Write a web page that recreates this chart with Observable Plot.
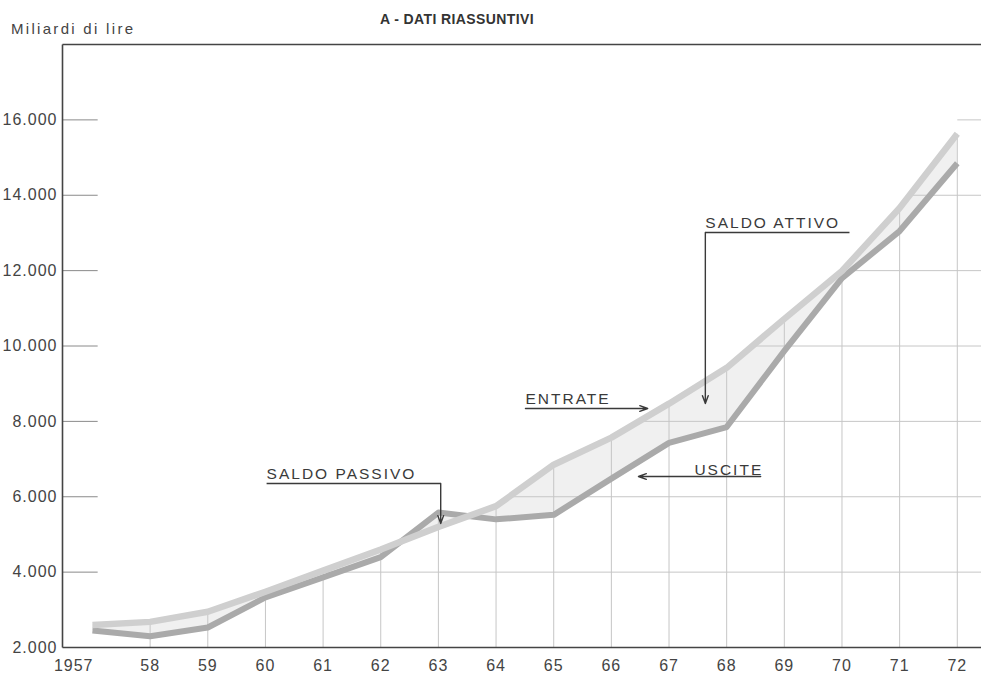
<!DOCTYPE html>
<html>
<head>
<meta charset="utf-8">
<script src="https://cdn.jsdelivr.net/npm/d3@7"></script>
<script src="https://cdn.jsdelivr.net/npm/@observablehq/plot@0.6"></script>
<style>
  html, body { margin: 0; padding: 0; background: #ffffff; }
  #wrap { position: relative; width: 981px; height: 673px; }
  #wrap svg text { letter-spacing: 1px; }
  #wrap svg g.ann text { letter-spacing: 2px; }
  .title { position: absolute; left: 457px; top: 11px; transform: translateX(-50%);
    font-family: "Liberation Sans Narrow", "Liberation Sans", Arial, sans-serif; font-weight: bold;
    font-size: 14px; color: #333; letter-spacing: 0.4px; white-space: nowrap; }
  .unit { position: absolute; left: 11px; top: 20px; font-family: "Liberation Sans", Arial, sans-serif;
    font-size: 15px; color: #444; letter-spacing: 2.3px; white-space: nowrap; }
</style>
</head>
<body>
<div id="wrap">
  <div class="title">A - DATI RIASSUNTIVI</div>
  <div class="unit">Miliardi di lire</div>
</div>
<script>
// ---- data (miliardi di lire) ----
const years   = [1957, 1958, 1959, 1960, 1961, 1962, 1963, 1964, 1965, 1966, 1967, 1968, 1969, 1970, 1971, 1972];
const entrate = [2600, 2680, 2950, 3480, 4040, 4600, 5200, 5750, 6850, 7570, 8470, 9420, 10720, 11990, 13660, 15630];
const uscite  = [2450, 2300, 2530, 3330, 3860, 4400, 5580, 5400, 5520, 6480, 7430, 7850, 9870, 11800, 13050, 14850];

const xTickLabels = ["1957", "58", "59", "60", "61", "62", "63", "64", "65", "66", "67", "68", "69", "70", "71", "72"];
const yTicks      = [2000, 4000, 6000, 8000, 10000, 12000, 14000, 16000];
const yTickLabels = ["2.000", "4.000", "6.000", "8.000", "10.000", "12.000", "14.000", "16.000"];

// annotation labels (data coordinates)
const annLabels = ["SALDO ATTIVO", "ENTRATE", "USCITE", "SALDO PASSIVO"];
const annX      = [1967.63, 1964.51, 1967.44, 1960.02];
const annY      = [13275, 8580, 6722, 6616];

const xDomain = [1956.48, 1972.42];
const yDomain = [2000, 18000];

const data = years.map((year, i) => ({year, entrate: entrate[i], uscite: uscite[i], top: Math.max(entrate[i], uscite[i])}));
const ann = annLabels.map((t, i) => ({t, x: annX[i], y: annY[i]}));

// the grid is only drawn below the upper curve: find where the upper curve reaches each level
function crossX(v) {
  const n = data.length;
  if (v <= data[0].top) return data[0].year;
  for (let i = 0; i < n - 1; i++) {
    const a = data[i].top, b = data[i + 1].top;
    if (a <= v && v <= b) return data[i].year + (v - a) / (b - a);
  }
  return data[n - 1].year;
}
const gridH = yTicks.slice(1).map(v => ({v, xa: crossX(v), xb: xDomain[1]}));
const leftTicks = yTicks.slice(1).map(v => ({v, xa: xDomain[0], xb: years[0] + 0.09}));
const gridV = data.filter(d => d.year > years[0]).map(d => ({x: d.year, ya: yDomain[0], yb: d.top}));

// leader lines / arrows (data coordinates)
const underlines = [
  {x1: 1967.63, y1: 13010, x2: 1970.13, y2: 13010},
  {x1: 1960.02, y1: 6351, x2: 1963.04, y2: 6351}
];
const arrows = [
  {x1: 1967.63, y1: 13010, x2: 1967.63, y2: 8473},
  {x1: 1964.51, y1: 8341, x2: 1966.63, y2: 8341},
  {x1: 1968.59, y1: 6537, x2: 1966.47, y2: 6537},
  {x1: 1963.04, y1: 6351, x2: 1963.04, y2: 5290}
];
const frameLines = [
  {x1: xDomain[0], y1: yDomain[0], x2: xDomain[1], y2: yDomain[0]},
  {x1: xDomain[0], y1: yDomain[1], x2: xDomain[1], y2: yDomain[1]},
  {x1: xDomain[0], y1: yDomain[0], x2: xDomain[0], y2: yDomain[1]}
];

const gridColor = "#c6c6c6";
const ink = "#3a3a3a";

const bandMarks = (typeof Plot.difference === "function")
  ? [Plot.difference(data, {x: "year", y1: "uscite", y2: "entrate",
        positiveFill: "#f0f0f0", negativeFill: "#b3b3b3", fillOpacity: 1, stroke: "none"})]
  : [Plot.areaY(data, {x: "year", y1: "uscite", y2: "entrate", fill: "#f0f0f0"})];

const chart = Plot.plot({
  width: 981,
  height: 673,
  marginTop: 44,
  marginBottom: 26,
  marginLeft: 62,
  marginRight: 0,
  x: {domain: xDomain, axis: null},
  y: {domain: yDomain, axis: null},
  style: {fontFamily: "'Liberation Sans', Arial, sans-serif", background: "#ffffff", color: ink},
  marks: [
    // band between the two series
    ...bandMarks,
    // grid (below the curves), plus short inner ticks on the left axis
    Plot.link(gridH, {x1: "xa", x2: "xb", y1: "v", y2: "v", stroke: gridColor, strokeWidth: 1}),
    Plot.link(leftTicks, {x1: "xa", x2: "xb", y1: "v", y2: "v", stroke: "#8a8a8a", strokeWidth: 1}),
    Plot.link(gridV, {x1: "x", x2: "x", y1: "ya", y2: "yb", stroke: gridColor, strokeWidth: 1}),
    // series
    Plot.line(data, {x: "year", y: "uscite", stroke: "#aaaaaa", strokeWidth: 6, strokeLinejoin: "round", strokeLinecap: "butt"}),
    Plot.line(data, {x: "year", y: "entrate", stroke: "#cfcfcf", strokeWidth: 6.5, strokeLinejoin: "round", strokeLinecap: "butt"}),
    // frame
    Plot.link(frameLines, {x1: "x1", y1: "y1", x2: "x2", y2: "y2", stroke: "#444", strokeWidth: 1.6}),
    // tick labels
    Plot.text(yTicks, {x: () => xDomain[0], y: d => d, text: d => yTickLabels[yTicks.indexOf(d)],
      textAnchor: "end", dx: -5, fontSize: 16, fill: "#444"}),
    Plot.text(years.slice(1), {x: d => d, y: () => yDomain[0], text: d => xTickLabels[years.indexOf(d)],
      textAnchor: "middle", dy: 18, fontSize: 16, fill: "#444"}),
    Plot.text([years[0]], {x: d => d, y: () => yDomain[0], text: d => xTickLabels[years.indexOf(d)],
      textAnchor: "end", dx: 1, dy: 18, fontSize: 16, fill: "#444"}),
    // annotations
    Plot.link(underlines, {x1: "x1", y1: "y1", x2: "x2", y2: "y2", stroke: ink, strokeWidth: 1.4}),
    Plot.arrow(arrows, {x1: "x1", y1: "y1", x2: "x2", y2: "y2", stroke: ink, strokeWidth: 1.4, headLength: 9, headAngle: 40}),
    Plot.text(ann, {x: "x", y: "y", text: "t", textAnchor: "start", fontSize: 15.5, fill: ink, className: "ann"})
  ]
});

document.getElementById("wrap").prepend(chart);
chart.style.position = "absolute";
chart.style.left = "0px";
chart.style.top = "0px";
</script>
</body>
</html>
